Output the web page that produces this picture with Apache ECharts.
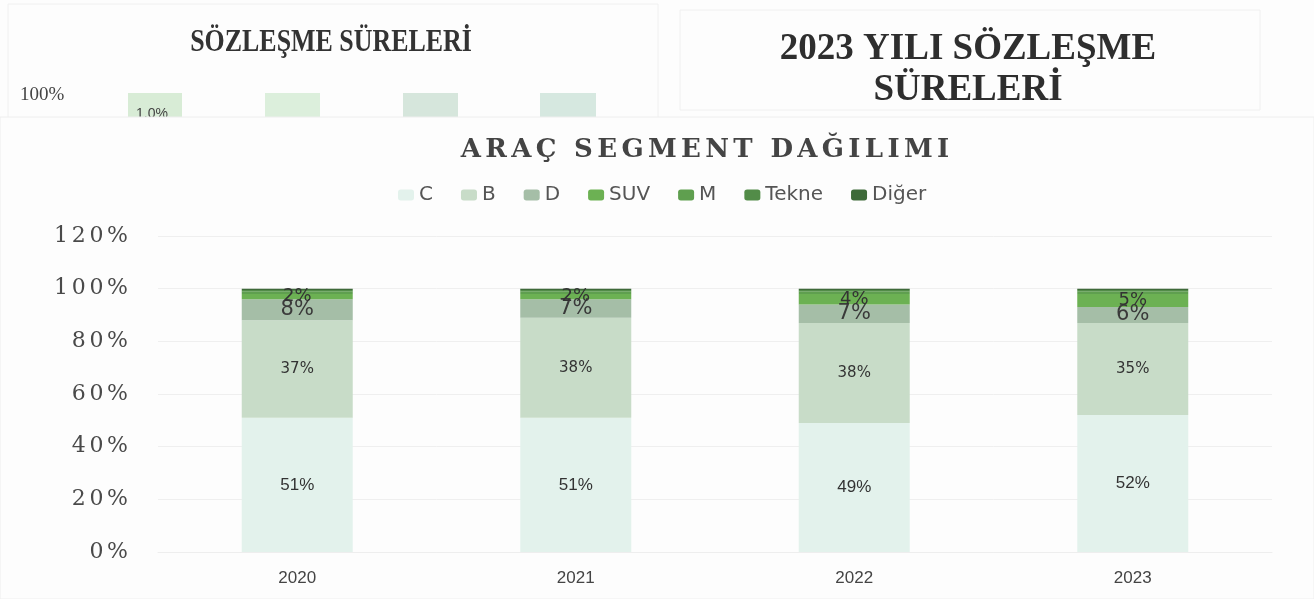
<!DOCTYPE html>
<html>
<head>
<meta charset="utf-8">
<script src="https://cdn.jsdelivr.net/npm/echarts@6/dist/echarts.min.js"></script>
<style>
html,body{margin:0;padding:0;background:#fdfdfd;}
#chart{width:1314px;height:599px;}
</style>
</head>
<body>
<div id="chart"></div>
<script>
const categories = ['2020', '2021', '2022', '2023'];
const seriesNames = ['C', 'B', 'D', 'SUV', 'M', 'Tekne', 'Diğer'];
const valuesC = [51, 51, 49, 52];
const valuesB = [37, 38, 38, 35];
const valuesD = [8, 7, 7, 6];
const valuesSUV = [2, 2, 4, 5];
const valuesM = [1, 1, 1, 1];
const valuesTekne = [0.5, 0.5, 0.5, 0.5];
const valuesDiger = [0.5, 0.5, 0.5, 0.5];
const yTicks = [0, 20, 40, 60, 80, 100, 120];
const mainTitle = 'ARAÇ SEGMENT DAĞILIMI';
const bgTitleLeft = 'SÖZLEŞME SÜRELERİ';
const bgTitleRight1 = '2023 YILI SÖZLEŞME';
const bgTitleRight2 = 'SÜRELERİ';

const colors = ['#e3f2ec', '#c8dcc8', '#a5bea7', '#6cb153', '#5f9f4f', '#528c48', '#3e6a39'];
const allValues = [valuesC, valuesB, valuesD, valuesSUV, valuesM, valuesTekne, valuesDiger];
const labelStyles = [
  {show: true, fontFamily: 'Liberation Sans', fontSize: 17, color: '#333'},
  {show: true, fontFamily: 'DejaVu Sans', fontSize: 15, color: '#333'},
  {show: true, fontFamily: 'DejaVu Sans', fontSize: 21, color: '#3a3a3a'},
  {show: true, fontFamily: 'DejaVu Sans', fontSize: 18, color: '#333'},
  {show: false}, {show: false}, {show: false}
];
const spaced = (s, sep) => s.split('').join(sep);

const chart = echarts.init(document.getElementById('chart'));
chart.setOption({
  backgroundColor: '#fdfdfd',
  animation: false,
  color: colors,
  grid: {left: 158, right: 42, top: 236, bottom: 47},
  legend: {
    left: 393, top: 180,
    itemWidth: 16, itemHeight: 11, itemGap: 28,
    icon: 'roundRect',
    textStyle: {fontFamily: 'DejaVu Sans', fontSize: 20, color: '#555'},
    data: seriesNames
  },
  xAxis: {
    type: 'category', data: categories,
    axisLine: {lineStyle: {color: '#eeeeee'}},
    axisTick: {show: false},
    axisLabel: {fontFamily: 'Liberation Sans', fontSize: 17, color: '#444', margin: 18}
  },
  yAxis: {
    type: 'value', min: 0, max: 120, interval: 20,
    axisLine: {show: false}, axisTick: {show: false},
    splitLine: {lineStyle: {color: '#efefef'}},
    axisLabel: {
      fontFamily: 'DejaVu Serif', fontSize: 22, color: '#4a4a4a', margin: 30,
      formatter: v => yTicks.includes(v) ? spaced(v + '%', '\u2006') : ''
    }
  },
  series: seriesNames.map((name, i) => ({
    name: name, type: 'bar', stack: 'total', barWidth: 111,
    data: allValues[i],
    itemStyle: {color: colors[i]},
    label: Object.assign({position: 'inside', formatter: p => p.value + '%'}, labelStyles[i])
  })),
  graphic: [
    {type: 'rect', shape: {x: 8, y: 4, width: 650, height: 114}, style: {fill: 'none', stroke: '#f0f0f0'}},
    {type: 'rect', shape: {x: 680, y: 10, width: 580, height: 100}, style: {fill: 'none', stroke: '#f0f0f0'}},
    {type: 'group', x: 331, y: 27, scaleX: 0.81, children: [
      {type: 'text', style: {x: 0, y: 0, text: bgTitleLeft, textAlign: 'center', font: 'bold 32px "Liberation Serif"', fill: '#333'}}
    ]},
    {type: 'text', style: {x: 968, y: 31, text: bgTitleRight1, textAlign: 'center', font: 'bold 37px "Liberation Serif"', fill: '#2e2e2e'}},
    {type: 'text', style: {x: 968, y: 72, text: bgTitleRight2, textAlign: 'center', font: 'bold 37px "Liberation Serif"', fill: '#2e2e2e'}},
    {type: 'text', style: {x: 20, y: 86, text: '100%', font: '19px "Liberation Serif"', fill: '#444'}},
    {type: 'rect', shape: {x: 128, y: 93, width: 54, height: 25}, style: {fill: '#d8ecd6'}},
    {type: 'rect', shape: {x: 265, y: 93, width: 55, height: 25}, style: {fill: '#dcefdc'}},
    {type: 'rect', shape: {x: 403, y: 93, width: 55, height: 25}, style: {fill: '#d6e6dc'}},
    {type: 'rect', shape: {x: 540, y: 93, width: 56, height: 25}, style: {fill: '#d6e8e0'}},
    {type: 'text', style: {x: 136, y: 107, text: '1.0%', font: '14px "Liberation Sans"', fill: '#444'}},
    {type: 'rect', shape: {x: 0, y: 117, width: 1314, height: 482}, style: {fill: '#fdfdfd', stroke: '#eeeeee'}},
    {type: 'text', style: {x: 705, y: 137, text: spaced(mainTitle, '\u2006'), textAlign: 'center', font: 'bold 26px "DejaVu Serif"', fill: '#444'}}
  ]
});
</script>
</body>
</html>
